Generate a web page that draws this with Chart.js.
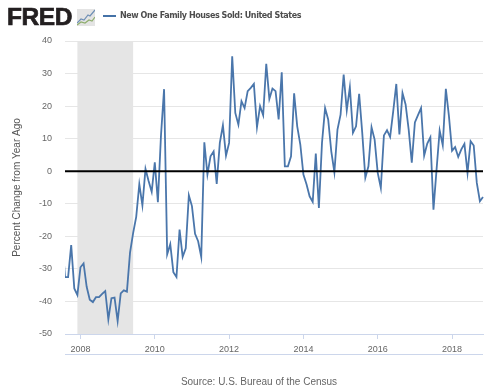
<!DOCTYPE html>
<html>
<head>
<meta charset="utf-8">
<style>
html,body{margin:0;padding:0;background:#fff;width:500px;height:390px;overflow:hidden}
#wrap{position:relative;width:500px;height:390px}
#chart{position:absolute;left:0;top:0}
.t{position:absolute;white-space:nowrap}
#fred{left:7px;top:3px;font:bold 24.5px/28px "Liberation Sans",sans-serif;color:#231f20;letter-spacing:-0.4px;-webkit-text-stroke:0.7px #231f20}
#series{left:120px;top:9px;font:bold 8px/13px "DejaVu Sans",sans-serif;letter-spacing:-0.42px;color:#4d4d4d}
#key{position:absolute;left:103px;top:15px;width:13px;height:2px;background:#4572a7}
#icon{position:absolute;left:77px;top:9px}
#source{left:0;width:518px;text-align:center;top:375px;font:10px/14px "Liberation Sans",sans-serif;color:#666}
</style>
<script src="https://cdn.jsdelivr.net/npm/chart.js@4"></script>
</head>
<body>
<div id="wrap">
<canvas id="chart" width="500" height="390"></canvas>
<div class="t" id="fred">FRED</div>
<svg id="icon" width="18" height="17" viewBox="0 0 18 17"><rect width="18" height="17" fill="#e4e4e4"/><polyline points="0,14 4,10 7,11 11,6 13,7 18,1" fill="none" stroke="#6f8fb5" stroke-width="1.2"/><polyline points="0,16 4,13 8,14 12,11 15,12 18,8" fill="none" stroke="#8fae6e" stroke-width="1.2"/></svg>
<div id="key"></div>
<div class="t" id="series">New One Family Houses Sold: United States</div>
<div class="t" id="source">Source: U.S. Bureau of the Census</div>
</div>
<script>
const seriesName = "New One Family Houses Sold: United States";
const yTitle = "Percent Change from Year Ago";
const firstYear = 2007, firstMonth = 7;
const axisStart = "2007-08";
const values2007to2009 = [-20,-32.5,-32.5,-22.7,-36,-38,-29.5,-28.3,-35.5,-39.5,-40.2,-38.7,-38.7,-37.7,-36.8,-45.5,-39,-38.8,-46,-37.5,-36.6,-37,-25,-19,-14,-4,-10.5,0.7,-3,-6.3];
const values2010to2012 = [2.7,-9.5,11,25.2,-25.5,-22.4,-31,-32.5,-17.9,-26.3,-23.7,-7.4,-10.7,-19.2,-21.5,-26.3,8.9,-1,4.6,6.1,-3.9,8.7,14.1,4.8,8.7,35.3,17.9,14.3,21.5,19.4,24.6,25.6,26.8,13.5,20,17.2];
const values2013to2015 = [33,22.2,25.4,24.6,15.9,30.4,1.5,1.5,4.6,23.9,13.8,8.2,-1,-4,-7.7,-9.4,5.4,-11.3,8.7,19.4,15.9,6.1,-0.3,12.8,17.4,29.7,18.7,25.8,11.8,13.8,23.8,11.8,-2,1.5,13.5,9.7];
const values2016to2018 = [-0.5,-5.1,11,12.6,10.5,18.4,26.8,11.3,24,20.5,12.8,2.6,15,17.2,19.4,4.8,8.5,10.4,-11.8,0.5,12.5,8,25.3,16.9,6.3,7.4,4.4,6.7,8.4,-0.5,9.2,7.9,-3.6,-9.2,-7.9];
const values = [...values2007to2009, ...values2010to2012, ...values2013to2015, ...values2016to2018];
const tickYears = [2008,2010,2012,2014,2016,2018];
const recessionStart = "2007-12", recessionEnd = "2009-06";
const months = values.map((_, i) => {
  const n = (firstMonth - 1) + i;
  return (firstYear + Math.floor(n / 12)) + "-" + String(n % 12 + 1).padStart(2, "0");
});

const overlay = {
  id: "overlay",
  beforeDatasetsDraw(c) {
    const {ctx, scales: {x}, chartArea: a} = c;
    const l = x.getPixelForValue(months.indexOf(recessionStart));
    const r = x.getPixelForValue(months.indexOf(recessionEnd));
    ctx.save();
    ctx.fillStyle = "#e5e5e5";
    ctx.fillRect(l, a.top, r - l, a.bottom - a.top);
    ctx.restore();
  },
  afterDatasetsDraw(c) {
    const {ctx, scales: {y}, chartArea: a} = c;
    const p = y.getPixelForValue(0);
    ctx.save();
    ctx.strokeStyle = "#000";
    ctx.lineWidth = 2;
    ctx.beginPath(); ctx.moveTo(a.left, p); ctx.lineTo(a.right, p); ctx.stroke();
    ctx.restore();
  },
  afterDraw(c) {
    const {ctx, chartArea: a} = c;
    ctx.save();
    ctx.strokeStyle = "#ccd6eb";
    ctx.lineWidth = 1;
    ctx.beginPath(); ctx.moveTo(a.left, a.bottom + 20.5); ctx.lineTo(a.right, a.bottom + 20.5); ctx.stroke();
    ctx.restore();
  }
};

new Chart(document.getElementById("chart"), {
  type: "line",
  data: { labels: months, datasets: [{ label: seriesName, data: values, borderColor: "#4a76ab", borderWidth: 1.8, pointRadius: 0, tension: 0, fill: false, clip: { left: 0, right: 2, top: 2, bottom: 2 } }] },
  options: {
    responsive: false, animation: false,
    layout: { padding: { top: 41, right: 17, bottom: 0, left: 11 } },
    plugins: { legend: { display: false }, tooltip: { enabled: false } },
    scales: {
      x: {
        type: "category", offset: false, min: axisStart,
        afterFit(s) { s.height = 56; },
        border: { color: "#ccd6eb", width: 1 },
        grid: { drawOnChartArea: false, drawTicks: true, tickLength: 5, tickColor: "#ccd6eb" },
        ticks: {
          autoSkip: false, maxRotation: 0, minRotation: 0, padding: 5,
          color: "#666", font: { family: "Liberation Sans", size: 9 },
          callback(v) {
            const [yr, mo] = months[v].split("-");
            return mo === "01" && tickYears.includes(+yr) ? yr : null;
          }
        }
      },
      y: {
        min: -50, max: 40,
        afterFit(s) { s.width = 54; },
        border: { display: false },
        grid: { color: "#e6e6e6", lineWidth: 1, drawTicks: false },
        ticks: { stepSize: 10, padding: 13, color: "#666", font: { family: "Liberation Sans", size: 9 } },
        title: { display: true, text: yTitle, color: "#555", padding: { top: 0, bottom: 0 }, font: { family: "Liberation Sans", size: 10, weight: "normal" } }
      }
    }
  },
  plugins: [overlay]
});
</script>
</body>
</html>
